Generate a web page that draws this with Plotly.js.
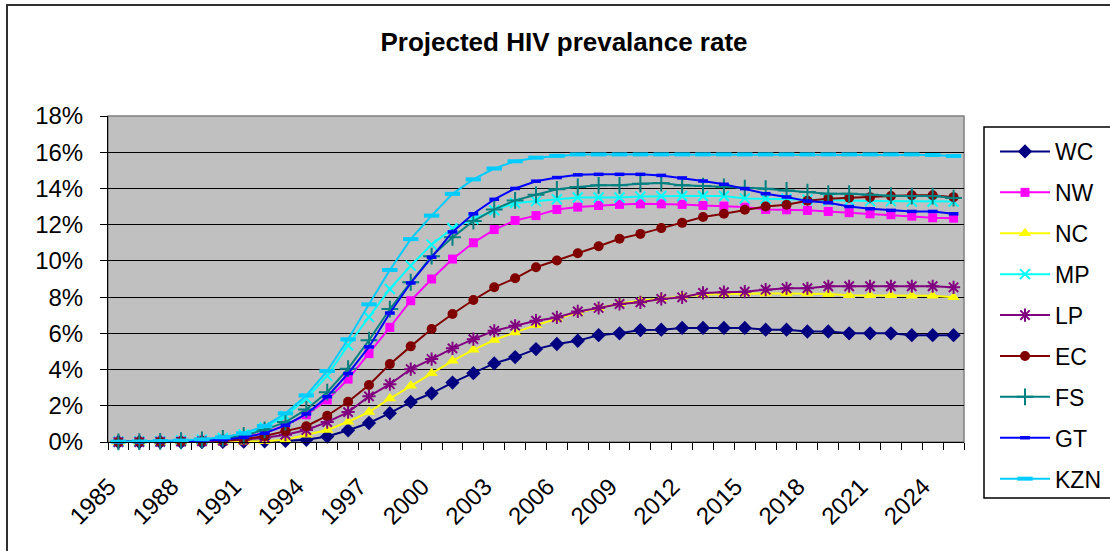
<!DOCTYPE html>
<html>
<head>
<meta charset="utf-8">
<script src="https://cdn.plot.ly/plotly-3.0.1.min.js"></script>
<style>html,body{margin:0;padding:0;background:#fff;}#chart{width:1110px;height:551px;}</style>
</head>
<body>
<div id="chart"></div>
<script>
const years = [];
for (let y = 1985; y <= 2025; y++) years.push(y);

const tickYears = [1985, 1988, 1991, 1994, 1997, 2000, 2003, 2006, 2009, 2012, 2015, 2018, 2021, 2024];

const WC = [0, 0, 0, 0, 0, 0.01, 0.02, 0.04, 0.07, 0.12, 0.3, 0.65, 1.05, 1.59, 2.21, 2.69, 3.28, 3.8, 4.34, 4.69, 5.13, 5.41, 5.59, 5.9, 6.0, 6.18, 6.2, 6.3, 6.3, 6.3, 6.3, 6.2, 6.2, 6.1, 6.1, 6.0, 6.0, 6.0, 5.9, 5.9, 5.9];
const NW = [0.02, 0.03, 0.04, 0.06, 0.1, 0.15, 0.28, 0.5, 0.93, 1.5, 2.32, 3.47, 4.88, 6.33, 7.8, 9.0, 10.1, 11.0, 11.73, 12.23, 12.5, 12.84, 12.97, 13.06, 13.12, 13.15, 13.15, 13.12, 13.06, 13.03, 12.97, 12.84, 12.82, 12.79, 12.73, 12.66, 12.6, 12.55, 12.47, 12.38, 12.36];
const NC = [0, 0, 0, 0, 0, 0.01, 0.02, 0.04, 0.12, 0.4, 0.66, 1.12, 1.65, 2.4, 3.1, 3.8, 4.48, 5.09, 5.63, 6.05, 6.45, 6.8, 7.15, 7.4, 7.65, 7.8, 7.93, 8.05, 8.15, 8.17, 8.2, 8.2, 8.2, 8.2, 8.17, 8.1, 8.1, 8.1, 8.08, 8.08, 7.99];
const MP = [0.02, 0.03, 0.05, 0.08, 0.13, 0.22, 0.42, 0.8, 1.44, 2.4, 3.65, 5.34, 6.9, 8.45, 9.74, 10.9, 11.8, 12.3, 12.8, 13.2, 13.3, 13.4, 13.5, 13.5, 13.5, 13.55, 13.58, 13.58, 13.58, 13.58, 13.45, 13.43, 13.43, 13.38, 13.35, 13.33, 13.3, 13.3, 13.28, 13.28, 13.28];
const LP = [0, 0, 0.01, 0.02, 0.04, 0.07, 0.13, 0.24, 0.4, 0.66, 1.1, 1.65, 2.52, 3.19, 4.02, 4.58, 5.17, 5.68, 6.14, 6.42, 6.7, 6.88, 7.21, 7.4, 7.62, 7.71, 7.9, 7.99, 8.23, 8.27, 8.3, 8.41, 8.49, 8.49, 8.6, 8.6, 8.6, 8.6, 8.6, 8.6, 8.54];
const EC = [0, 0.01, 0.02, 0.03, 0.05, 0.09, 0.15, 0.33, 0.6, 0.87, 1.45, 2.22, 3.15, 4.3, 5.28, 6.24, 7.07, 7.84, 8.54, 9.04, 9.65, 10.02, 10.42, 10.81, 11.22, 11.49, 11.81, 12.1, 12.42, 12.6, 12.82, 13.0, 13.1, 13.32, 13.43, 13.49, 13.52, 13.58, 13.62, 13.62, 13.52];
const FS = [0.01, 0.02, 0.04, 0.07, 0.12, 0.2, 0.36, 0.67, 1.1, 1.8, 2.75, 4.05, 5.62, 7.34, 8.82, 10.26, 11.3, 12.2, 12.84, 13.34, 13.65, 13.95, 14.08, 14.17, 14.17, 14.26, 14.3, 14.17, 14.13, 14.08, 14.02, 13.99, 13.89, 13.8, 13.71, 13.71, 13.65, 13.6, 13.58, 13.58, 13.47];
const GT = [0.01, 0.01, 0.02, 0.04, 0.07, 0.12, 0.25, 0.48, 0.92, 1.55, 2.5, 3.78, 5.25, 7.12, 8.78, 10.2, 11.6, 12.6, 13.4, 14.0, 14.4, 14.6, 14.75, 14.78, 14.78, 14.78, 14.72, 14.58, 14.41, 14.23, 13.99, 13.71, 13.53, 13.3, 13.21, 13.0, 12.88, 12.79, 12.73, 12.73, 12.6];
const KZN = [0.02, 0.03, 0.05, 0.08, 0.15, 0.26, 0.48, 0.88, 1.58, 2.57, 3.92, 5.67, 7.6, 9.5, 11.2, 12.5, 13.7, 14.5, 15.1, 15.5, 15.7, 15.8, 15.88, 15.88, 15.88, 15.88, 15.88, 15.88, 15.88, 15.88, 15.88, 15.88, 15.88, 15.88, 15.88, 15.88, 15.88, 15.88, 15.88, 15.85, 15.79];

const seriesNames = ['WC', 'NW', 'NC', 'MP', 'LP', 'EC', 'FS', 'GT', 'KZN'];
const seriesValues = [WC, NW, NC, MP, LP, EC, FS, GT, KZN];
const seriesColors = ['#000080', '#FF00FF', '#FFFF00', '#00FFFF', '#800080', '#800000', '#008080', '#0000FF', '#00CCFF'];

const markerStyles = [
  {symbol: 'diamond', size: 11},
  {symbol: 'square', size: 9},
  {symbol: 'triangle-up', size: 11},
  {symbol: 'x-thin-open', size: 10, lw: 2},
  {symbol: 'asterisk-open', size: 11, lw: 2},
  {symbol: 'circle', size: 10},
  {symbol: 'cross-thin-open', size: 12, lw: 2},
  {symbol: 'line-ew-open', size: 7, lw: 3.5},
  {symbol: 'line-ew-open', size: 11, lw: 4}
];

const FONT = 'Arial, "Liberation Sans", sans-serif';

const traces = seriesNames.map((name, i) => {
  const ms = markerStyles[i];
  const marker = {symbol: ms.symbol, size: ms.size, color: seriesColors[i]};
  if (ms.lw) marker.line = {color: seriesColors[i], width: ms.lw};
  else marker.line = {width: 0};
  return {
    x: years, y: seriesValues[i], name: name, type: 'scatter', mode: 'lines+markers',
    line: {color: seriesColors[i], width: 2},
    marker: marker, legendgroup: name, cliponaxis: false
  };
});

// pixel helpers (plot area: x 108..964, y 116..442)
const L = 108, R = 964, T = 116, B = 442;
const px = v => (v - L) / (R - L);
const py = v => (B - v) / (B - T);

// rotated labels sit slightly left of the category centre, as in the original
const labelShift = 0.45;

const layout = {
  width: 1110, height: 551,
  margin: {l: L, r: 1110 - R, t: T, b: 551 - B, pad: 0, autoexpand: false},
  paper_bgcolor: '#ffffff',
  plot_bgcolor: '#C0C0C0',
  font: {family: FONT, color: '#000'},
  title: {text: '<b>Projected HIV prevalance rate</b>', font: {size: 26, family: FONT, color: '#000'},
          x: 564 / 1110, xref: 'container', xanchor: 'center', y: 1 - 42 / 551, yref: 'container', yanchor: 'middle'},
  showlegend: true,
  legend: {x: px(995), xanchor: 'left', y: py(130), yanchor: 'top', bgcolor: 'rgba(0,0,0,0)',
           borderwidth: 0, font: {size: 23, family: FONT, color: '#000'}, tracegroupgap: 8,
           itemwidth: 50, maxheight: 600},
  xaxis: {
    range: [1984.5, 2025.5], tickmode: 'array', tickvals: tickYears.map(v => v - labelShift), ticktext: tickYears.map(String),
    tickangle: -45, ticks: '', showgrid: false, zeroline: false,
    showline: true, linecolor: '#000', linewidth: 1, ticklabelstandoff: 20,
    tickfont: {size: 24, family: FONT, color: '#000'},
    minor: {tick0: 1984.5, dtick: 1, ticks: 'outside', ticklen: 7, tickcolor: '#000', tickwidth: 1, showgrid: false}
  },
  yaxis: {
    range: [0, 18], dtick: 2, tick0: 0, ticksuffix: '%', ticks: 'outside', ticklen: 7, tickcolor: '#000',
    showgrid: true, gridcolor: '#000', gridwidth: 1, zeroline: false,
    showline: true, linecolor: '#000', linewidth: 1, ticklabelstandoff: 12,
    tickfont: {size: 24, family: FONT, color: '#000'}
  },
  shapes: [
    {type: 'rect', xref: 'paper', yref: 'paper', x0: px(7), x1: px(1118), y0: py(570), y1: py(5),
     line: {color: '#303030', width: 2}, fillcolor: 'rgba(0,0,0,0)', layer: 'below'},
    {type: 'rect', xref: 'paper', yref: 'paper', x0: px(984), x1: px(1116), y0: py(498), y1: py(127),
     line: {color: '#000', width: 1.5}, fillcolor: '#ffffff', layer: 'below'},
    {type: 'rect', xref: 'paper', yref: 'paper', x0: 0, x1: 1, y0: 0, y1: 1,
     line: {color: '#808080', width: 1.5}, fillcolor: 'rgba(0,0,0,0)', layer: 'between'}
  ]
};

Plotly.newPlot('chart', traces, layout, {displayModeBar: false, staticPlot: true});
</script>
</body>
</html>
